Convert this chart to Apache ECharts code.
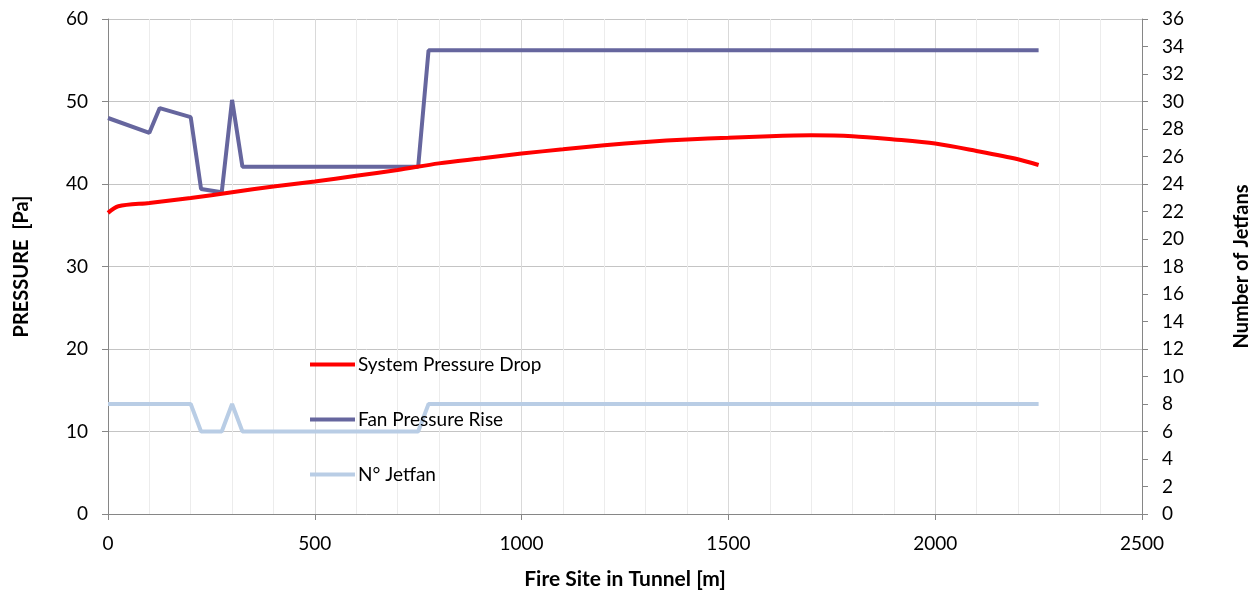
<!DOCTYPE html>
<html>
<head>
<meta charset="utf-8">
<title>Pressure vs Fire Site</title>
<script src="https://cdn.jsdelivr.net/npm/echarts@6/dist/echarts.min.js"></script>
<style>
  html, body { margin: 0; padding: 0; background: #fff; }
  #main { width: 1256px; height: 590px; }
</style>
</head>
<body>
<div id="main"></div>
<script>
// System Pressure Drop [Pa] vs fire site [m]
var dropX = [0, 25, 100, 200, 300, 400, 500, 600, 700, 800, 900, 1000, 1100, 1200, 1300, 1400, 1500, 1600, 1700, 1800, 1900, 2000, 2100, 2200, 2250];
var dropY = [36.5, 37.3, 37.7, 38.3, 39.0, 39.7, 40.3, 41.0, 41.7, 42.5, 43.1, 43.7, 44.2, 44.7, 45.1, 45.4, 45.6, 45.8, 45.9, 45.8, 45.4, 44.9, 44.0, 43.0, 42.3];

// Fan Pressure Rise [Pa]
var fanX = [0, 100, 125, 200, 225, 275, 300, 325, 750, 775, 2250];
var fanY = [48.0, 46.2, 49.2, 48.1, 39.4, 39.0, 50.2, 42.1, 42.1, 56.2, 56.2];

// N° Jetfan (right axis)
var jetX = [0, 200, 225, 275, 300, 325, 750, 775, 2250];
var jetY = [8, 8, 6, 6, 8, 6, 6, 8, 8];

function pairs(xs, ys) {
  var out = [];
  for (var i = 0; i < xs.length; i++) out.push([xs[i], ys[i]]);
  return out;
}

var myChart = echarts.init(document.getElementById('main'));
var font = 'Lato';
var axisGray = '#868686';

var option = {
  animation: false,
  textStyle: { fontFamily: font },
  grid: { left: 108, right: 114, top: 19, bottom: 76, containLabel: false, outerBoundsMode: 'none' },
  legend: {
    orient: 'vertical',
    left: 305,
    top: 350,
    icon: 'rect',
    itemWidth: 45,
    itemHeight: 4,
    itemGap: 36,
    textStyle: { fontFamily: font, fontSize: 19, color: '#000', padding: [0, 0, 0, -2] },
    data: ['System Pressure Drop', 'Fan Pressure Rise', 'N° Jetfan']
  },
  xAxis: {
    type: 'value',
    min: 0,
    max: 2500,
    interval: 500,
    name: 'Fire Site in Tunnel [m]',
    nameLocation: 'middle',
    nameGap: 55,
    nameTextStyle: { fontFamily: font, fontSize: 21, fontWeight: 'bold', color: '#000' },
    axisLine: { onZero: false, lineStyle: { color: axisGray } },
    axisTick: { show: true, length: 6, lineStyle: { color: axisGray } },
    axisLabel: { fontFamily: font, fontSize: 19, color: '#000', margin: 20, formatter: function (v) { return String(v); } },
    splitLine: { show: true, lineStyle: { color: '#d9d9d9' } },
    minorTick: { show: false, splitNumber: 5 },
    minorSplitLine: { show: true, lineStyle: { color: '#ececec' } }
  },
  yAxis: [
    {
      type: 'value',
      min: 0,
      max: 60,
      interval: 10,
      name: 'PRESSURE  [Pa]',
      nameLocation: 'middle',
      nameGap: 76,
      nameTextStyle: { fontFamily: font, fontSize: 20, fontWeight: 'bold', color: '#000' },
      axisLine: { show: true, lineStyle: { color: axisGray } },
      axisTick: { show: true, length: 6, lineStyle: { color: axisGray } },
      axisLabel: { fontFamily: font, fontSize: 19, color: '#000', margin: 20 },
      splitLine: { show: true, lineStyle: { color: '#c4c4c4' } }
    },
    {
      type: 'value',
      min: 0,
      max: 36,
      interval: 2,
      position: 'right',
      name: 'Number of Jetfans',
      nameLocation: 'middle',
      nameGap: 90,
      nameRotate: 90,
      nameTextStyle: { fontFamily: font, fontSize: 20, fontWeight: 'bold', color: '#000' },
      axisLine: { show: true, lineStyle: { color: axisGray } },
      axisTick: { show: true, length: 6, lineStyle: { color: axisGray } },
      axisLabel: { fontFamily: font, fontSize: 19, color: '#000', margin: 20, align: 'left' },
      splitLine: { show: false }
    }
  ],
  series: [
    {
      name: 'System Pressure Drop',
      type: 'line',
      yAxisIndex: 0,
      symbol: 'none',
      smooth: 0.3,
      color: '#ff0000',
      lineStyle: { width: 4, color: '#ff0000' },
      data: pairs(dropX, dropY),
      z: 4
    },
    {
      name: 'Fan Pressure Rise',
      type: 'line',
      yAxisIndex: 0,
      symbol: 'none',
      color: '#66669e',
      lineStyle: { width: 4, color: '#66669e' },
      data: pairs(fanX, fanY),
      z: 3
    },
    {
      name: 'N° Jetfan',
      type: 'line',
      yAxisIndex: 1,
      symbol: 'none',
      color: '#b9cde5',
      lineStyle: { width: 4, color: '#b9cde5' },
      data: pairs(jetX, jetY),
      z: 2
    }
  ]
};
myChart.setOption(option);
</script>
</body>
</html>
